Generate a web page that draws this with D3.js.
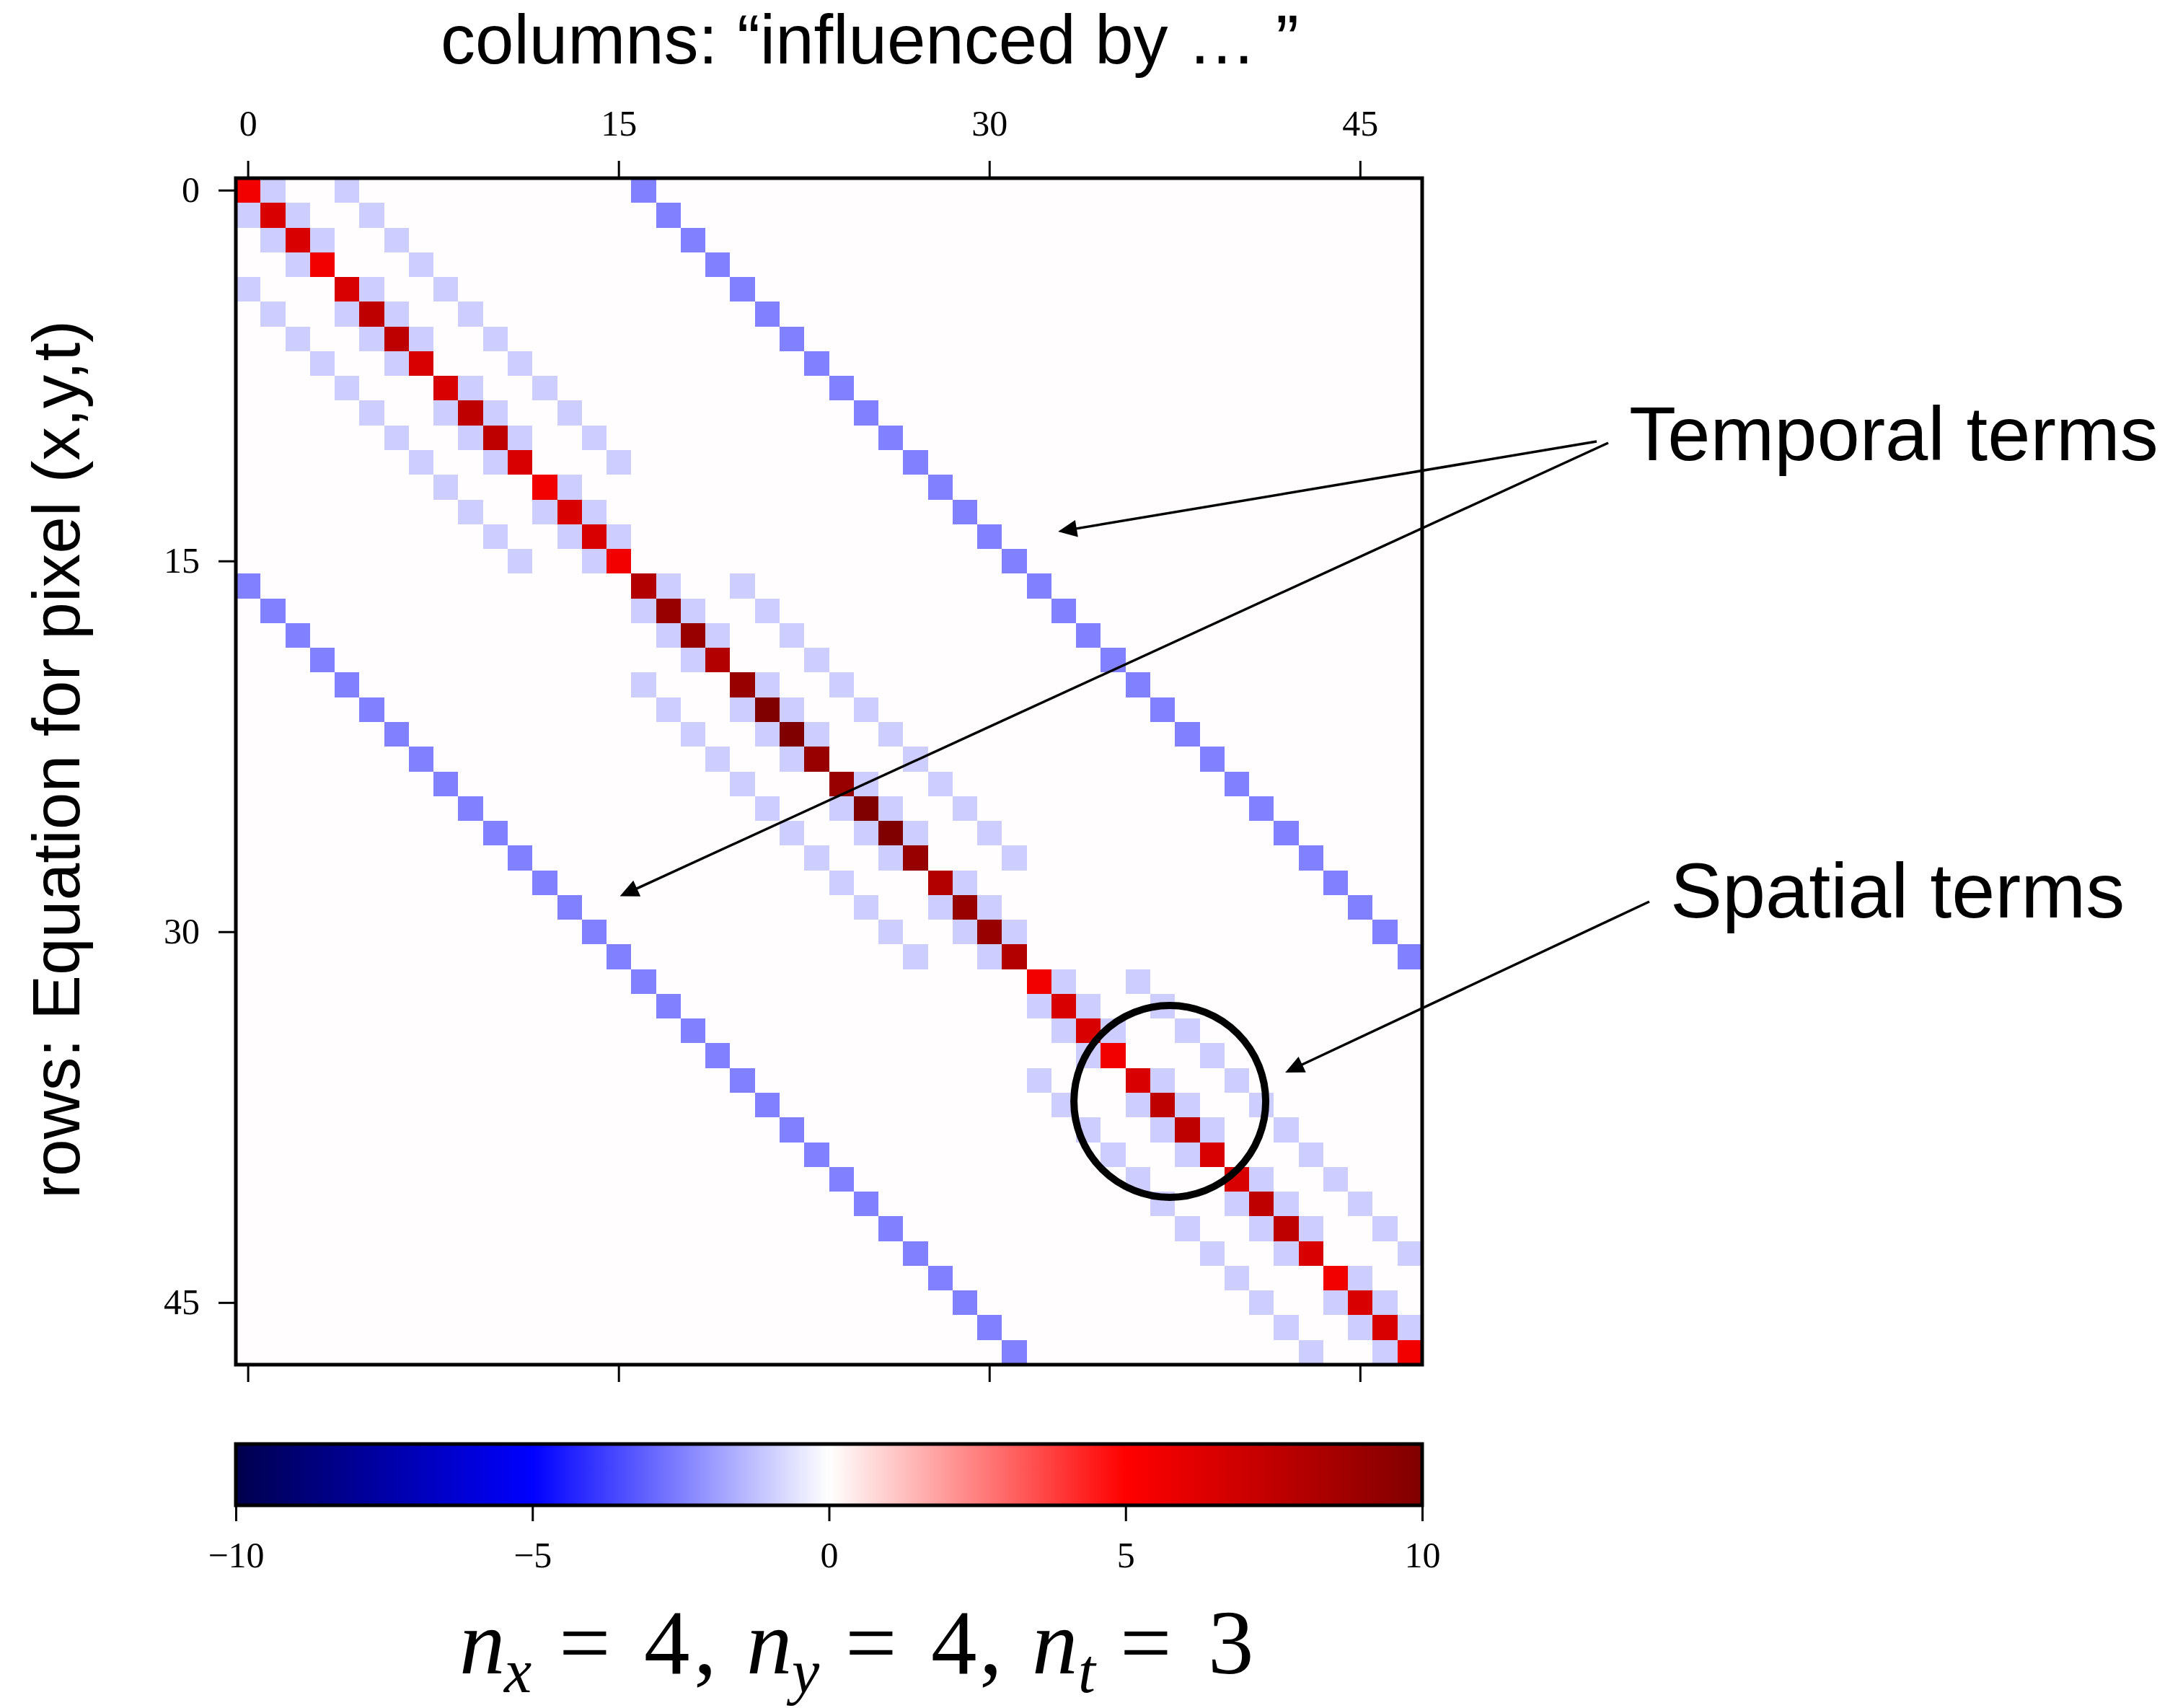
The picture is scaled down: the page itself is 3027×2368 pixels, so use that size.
<!DOCTYPE html>
<html>
<head>
<meta charset="utf-8">
<script src="https://cdn.jsdelivr.net/npm/d3@7"></script>
<style>
  body { margin: 0; background: #ffffff; }
  svg { display: block; }
</style>
</head>
<body>
<svg id="chart" width="3027" height="2368"></svg>
<script>
// ---- System matrix for an nx × ny × nt space-time grid (pixel index = x + 4y + 16t) ----
const gridSize = { nx: 4, ny: 4, nt: 3 };

// Main diagonal: one entry per pixel equation
const diagonal = [
  5.5, 6.5, 6.5, 5.5,  6.5, 7.5, 7.5, 6.5,  6.5, 7.5, 7.5, 6.5,  5.5, 6.5, 6.5, 5.5,
  8,   9,   9,   8,    9,   10,  10,  9,    9,   10,  10,  9,    8,   9,   9,   8,
  5.5, 6.5, 6.5, 5.5,  6.5, 7.5, 7.5, 6.5,  6.5, 7.5, 7.5, 6.5,  5.5, 6.5, 6.5, 5.5
];

// Coupling strengths
const spatialCoef = -1;
const temporalCoef = -2.5;

// Neighbouring pixel pairs in space (x-neighbours, then y-neighbours)
const spatialPairs = [
  [0,1],[1,2],[2,3],[4,5],[5,6],[6,7],[8,9],[9,10],[10,11],[12,13],[13,14],[14,15],
  [16,17],[17,18],[18,19],[20,21],[21,22],[22,23],[24,25],[25,26],[26,27],[28,29],[29,30],[30,31],
  [32,33],[33,34],[34,35],[36,37],[37,38],[38,39],[40,41],[41,42],[42,43],[44,45],[45,46],[46,47],
  [0,4],[1,5],[2,6],[3,7],[4,8],[5,9],[6,10],[7,11],[8,12],[9,13],[10,14],[11,15],
  [16,20],[17,21],[18,22],[19,23],[20,24],[21,25],[22,26],[23,27],[24,28],[25,29],[26,30],[27,31],
  [32,36],[33,37],[34,38],[35,39],[36,40],[37,41],[38,42],[39,43],[40,44],[41,45],[42,46],[43,47]
];

// Neighbouring pixel pairs in time (same pixel, consecutive frames)
const temporalPairs = [
  [0,16],[1,17],[2,18],[3,19],[4,20],[5,21],[6,22],[7,23],
  [8,24],[9,25],[10,26],[11,27],[12,28],[13,29],[14,30],[15,31],
  [16,32],[17,33],[18,34],[19,35],[20,36],[21,37],[22,38],[23,39],
  [24,40],[25,41],[26,42],[27,43],[28,44],[29,45],[30,46],[31,47]
];

const axisTicks = [0, 15, 30, 45];
const colorTicks = [-10, -5, 0, 5, 10];
const colorDomain = [-10, 10];

// ---- Assemble the dense matrix ----
const N = diagonal.length;
const M = d3.range(N).map(() => new Array(N).fill(0));
diagonal.forEach((v, i) => { M[i][i] = v; });
spatialPairs.forEach(([a, b]) => { M[a][b] = spatialCoef; M[b][a] = spatialCoef; });
temporalPairs.forEach(([a, b]) => { M[a][b] = temporalCoef; M[b][a] = temporalCoef; });
const cells = [];
for (let r = 0; r < N; r++) for (let c = 0; c < N; c++) cells.push({ r, c, v: M[r][c] });

// ---- Layout ----
const svg = d3.select("#chart");
const plot = { left: 327, top: 247, size: 1645 };
const x = d3.scaleBand().domain(d3.range(N)).range([plot.left, plot.left + plot.size]);
const y = d3.scaleBand().domain(d3.range(N)).range([plot.top, plot.top + plot.size]);
// continuous cell coordinates (cell centres at integers) for annotations
const xc = d3.scaleLinear().domain([-0.5, N - 0.5]).range(x.range());
const yc = d3.scaleLinear().domain([-0.5, N - 0.5]).range(y.range());

// "seismic" colour map, sampled as a 256-entry lookup table
const seismic = d3.scaleLinear()
  .domain([0, 0.25, 0.5, 0.75, 1])
  .range(["#00004d", "#0000ff", "#ffffff", "#ff0000", "#800000"])
  .interpolate(d3.interpolateRgb);
const norm = d3.scaleLinear().domain(colorDomain).range([0, 1]).clamp(true);
const cmap = v => seismic(Math.min(255, Math.floor(norm(v) * 256)) / 255);

const sans = "'Liberation Sans', Arial, Helvetica, sans-serif";
const serif = "'Liberation Serif', 'Times New Roman', serif";

// ---- Matrix cells ----
svg.append("g")
  .selectAll("rect")
  .data(cells)
  .join("rect")
  .attr("x", d => x(d.c))
  .attr("y", d => y(d.r))
  .attr("width", x.bandwidth() + 0.6)
  .attr("height", y.bandwidth() + 0.6)
  .attr("fill", d => cmap(d.v))
  .attr("shape-rendering", "crispEdges");

// ---- Axes ----
function styleAxis(g) {
  g.select(".domain").remove();
  g.selectAll(".tick line").attr("stroke", "#000").attr("stroke-width", 3);
  g.selectAll(".tick text")
    .attr("fill", "#000")
    .style("font-family", serif)
    .style("font-size", "50px");
}

svg.append("g")
  .attr("transform", `translate(0,${plot.top})`)
  .call(d3.axisTop(x).tickValues(axisTicks).tickSize(24).tickPadding(35).tickSizeOuter(0))
  .call(styleAxis);

svg.append("g")
  .attr("transform", `translate(0,${plot.top + plot.size})`)
  .call(d3.axisBottom(x).tickValues(axisTicks).tickSize(24).tickFormat("").tickSizeOuter(0))
  .call(styleAxis);

svg.append("g")
  .attr("transform", `translate(${plot.left},0)`)
  .call(d3.axisLeft(y).tickValues(axisTicks).tickSize(24).tickPadding(26).tickSizeOuter(0))
  .call(styleAxis);

// frame
svg.append("rect")
  .attr("x", plot.left).attr("y", plot.top)
  .attr("width", plot.size).attr("height", plot.size)
  .attr("fill", "none").attr("stroke", "#000").attr("stroke-width", 5);

// ---- Axis titles ----
svg.append("text")
  .attr("x", 1206).attr("y", 88)
  .attr("text-anchor", "middle")
  .style("font-family", sans).style("font-size", "96px")
  .text("columns: \u201Cinfluenced by \u2026 \u201D");

svg.append("text")
  .attr("transform", "translate(110,1053) rotate(-90)")
  .attr("text-anchor", "middle")
  .style("font-family", sans).style("font-size", "93px")
  .text("rows: Equation for pixel (x,y,t)");

// ---- Colour bar ----
const cb = { x: plot.left, y: 2002, w: plot.size, h: 85 };
const grad = svg.append("defs").append("linearGradient")
  .attr("id", "seismicGrad").attr("x1", "0%").attr("x2", "100%").attr("y1", "0%").attr("y2", "0%");
grad.selectAll("stop")
  .data(d3.range(0, 256))
  .join("stop")
  .attr("offset", i => (i / 255 * 100) + "%")
  .attr("stop-color", i => seismic(i / 255));

svg.append("rect")
  .attr("x", cb.x).attr("y", cb.y).attr("width", cb.w).attr("height", cb.h)
  .attr("fill", "url(#seismicGrad)");
svg.append("rect")
  .attr("x", cb.x).attr("y", cb.y).attr("width", cb.w).attr("height", cb.h)
  .attr("fill", "none").attr("stroke", "#000").attr("stroke-width", 5);

const cbScale = d3.scaleLinear().domain(colorDomain).range([cb.x, cb.x + cb.w]);
svg.append("g")
  .attr("transform", `translate(0,${cb.y + cb.h})`)
  .call(d3.axisBottom(cbScale).tickValues(colorTicks).tickSize(22).tickPadding(28).tickSizeOuter(0))
  .call(styleAxis);

// ---- Grid size caption (one text element, glyph runs placed as in math layout) ----
const caption = [
  { s: "n", x: 637, it: true },
  { s: "x", x: 699, it: true, sub: true },
  { s: "=", x: 775 },
  { s: String(gridSize.nx), x: 893 },
  { s: ",", x: 962 },
  { s: "n", x: 1035, it: true },
  { s: "y", x: 1098, it: true, sub: true },
  { s: "=", x: 1172 },
  { s: String(gridSize.ny), x: 1291 },
  { s: ",", x: 1358 },
  { s: "n", x: 1431, it: true },
  { s: "t", x: 1495, it: true, sub: true },
  { s: "=", x: 1553 },
  { s: String(gridSize.nt), x: 1675 }
];
svg.append("text")
  .style("font-family", serif)
  .selectAll("tspan")
  .data(caption)
  .join("tspan")
  .attr("x", d => d.x)
  .attr("y", d => d.sub ? 2346 : 2320)
  .style("font-style", d => d.it ? "italic" : "normal")
  .style("font-size", d => d.sub ? "86px" : "127px")
  .text(d => d.s);

// ---- Annotations ----
const ann = svg.append("g");
function arrow(x0, y0, x1, y1) {
  const dx = x1 - x0, dy = y1 - y0, L = Math.hypot(dx, dy);
  const ux = dx / L, uy = dy / L, hl = 26, hw = 12;
  const bx = x1 - ux * hl, by = y1 - uy * hl;
  ann.append("line")
    .attr("x1", x0).attr("y1", y0).attr("x2", bx + ux * 2).attr("y2", by + uy * 2)
    .attr("stroke", "#000").attr("stroke-width", 3.5);
  ann.append("polygon")
    .attr("points", [[x1, y1], [bx - uy * hw, by + ux * hw], [bx + uy * hw, by - ux * hw]].map(p => p.join(",")).join(" "))
    .attr("fill", "#000");
}

ann.append("text")
  .attr("x", 2259).attr("y", 638)
  .style("font-family", sans).style("font-size", "106.5px")
  .text("Temporal terms");
arrow(2214, 612, xc(32.77), yc(13.8));
arrow(2230, 614, xc(15.04), yc(28.55));

ann.append("text")
  .attr("x", 2316).attr("y", 1272)
  .style("font-family", sans).style("font-size", "108px")
  .text("Spatial terms");
arrow(2287, 1250, xc(41.96), yc(35.68));

ann.append("circle")
  .attr("cx", xc(37.29)).attr("cy", yc(36.85))
  .attr("r", xc(3.88) - xc(0))
  .attr("fill", "none").attr("stroke", "#000").attr("stroke-width", 10);
</script>
</body>
</html>
